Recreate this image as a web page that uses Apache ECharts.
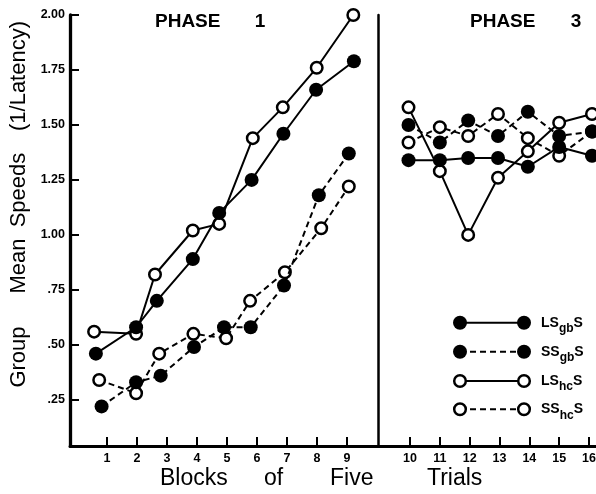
<!DOCTYPE html>
<html><head><meta charset="utf-8">
<script src="https://cdn.jsdelivr.net/npm/echarts@6/dist/echarts.min.js"></script>
<style>html,body{margin:0;padding:0;background:#fff}#c{width:596px;height:494px}</style>
</head><body><div id="c"></div>
<script>
// ---- data ----
const phase1Ticks = [1, 2, 3, 4, 5, 6, 7, 8, 9];
const phase3Ticks = [10, 11, 12, 13, 14, 15, 16];
const yTicks = [0.25, 0.5, 0.75, 1.0, 1.25, 1.5, 1.75, 2.0];

// Phase 1: [block position as drawn, speed]
const lsgbP1 = [[0.63,0.46],[1.97,0.58],[2.66,0.70],[3.86,0.89],[4.74,1.10],[5.82,1.25],[6.88,1.46],[7.97,1.66],[9.23,1.79]];
const ssgbP1 = [[0.82,0.22],[1.97,0.33],[2.79,0.36],[3.90,0.49],[4.90,0.58],[5.79,0.58],[6.90,0.77],[8.06,1.18],[9.06,1.37]];
const lshcP1 = [[0.57,0.56],[1.97,0.55],[2.60,0.82],[3.86,1.02],[4.74,1.05],[5.86,1.44],[6.86,1.58],[7.99,1.76],[9.21,2.00]];
const sshcP1 = [[0.74,0.34],[1.97,0.28],[2.74,0.46],[3.88,0.55],[4.97,0.53],[5.77,0.70],[6.93,0.83],[8.14,1.03],[9.06,1.22]];

// Phase 3: trials 10-16
const phase3X = [9.95, 11, 11.95, 12.95, 13.95, 15, 16.1];
const lsgbP3 = [1.34, 1.34, 1.35, 1.35, 1.31, 1.40, 1.36];
const ssgbP3 = [1.50, 1.42, 1.52, 1.45, 1.56, 1.45, 1.47];
const lshcP3 = [1.58, 1.29, 1.00, 1.26, 1.38, 1.51, 1.55];
const sshcP3 = [1.42, 1.49, 1.45, 1.55, 1.44, 1.36, 1.47];

const legendItems = [
  {main1: 'LS', sub: 'gb', main2: 'S', filled: true, dashed: false},
  {main1: 'SS', sub: 'gb', main2: 'S', filled: true, dashed: true},
  {main1: 'LS', sub: 'hc', main2: 'S', filled: false, dashed: false},
  {main1: 'SS', sub: 'hc', main2: 'S', filled: false, dashed: true}
];

// ---- chart ----
const FONT = '"Liberation Sans", Arial, sans-serif';
const chart = echarts.init(document.getElementById('c'), null, {renderer: 'canvas'});
const zip = (xs, ys) => xs.map((x, i) => [x, ys[i]]);

function mk(name, data, idx, filled, dashed) {
  return {
    type: 'line', name, data, xAxisIndex: idx, yAxisIndex: idx,
    symbol: 'circle', symbolSize: filled ? 14 : 11.5, showSymbol: true,
    itemStyle: filled ? {color: '#000'} : {color: '#fff', borderColor: '#000', borderWidth: 2.5},
    lineStyle: {color: '#000', width: 2, type: dashed ? [6, 4] : 'solid'},
    z: filled ? 3 : 2, clip: false, animation: false, silent: true
  };
}

const yFmt = v => { const s = v.toFixed(2); return v < 1 ? s.slice(1) : s; };

function xAxisCfg(idx, min, max, ticks) {
  return {
    type: 'value', gridIndex: idx, min, max,
    axisLine: {show: true, onZero: false, lineStyle: {color: '#000', width: 3}},
    axisTick: {show: true, inside: true, length: 9, lineStyle: {color: '#000', width: 2}, customValues: ticks},
    axisLabel: {show: true, margin: 6, color: '#000', fontFamily: FONT, fontWeight: 'bold', fontSize: 12.5, customValues: ticks},
    splitLine: {show: false}
  };
}

const graphics = [];
// titles
graphics.push({type: 'text', style: {text: 'PHASE', x: 155, y: 22, textVerticalAlign: 'middle', font: 'bold 19px ' + FONT, fill: '#000'}});
graphics.push({type: 'text', style: {text: '1', x: 260, y: 22, textAlign: 'center', textVerticalAlign: 'middle', font: 'bold 19px ' + FONT, fill: '#000'}});
graphics.push({type: 'text', style: {text: 'PHASE', x: 470, y: 22, textVerticalAlign: 'middle', font: 'bold 19px ' + FONT, fill: '#000'}});
graphics.push({type: 'text', style: {text: '3', x: 576, y: 22, textAlign: 'center', textVerticalAlign: 'middle', font: 'bold 19px ' + FONT, fill: '#000'}});
// y axis title words
[['Group', 357], ['Mean', 266], ['Speeds', 190], ['(1/Latency)', 76]].forEach(([t, cy]) => {
  graphics.push({type: 'text', x: 19, y: cy, rotation: Math.PI / 2,
    style: {text: t, x: 0, y: 0, textAlign: 'center', textVerticalAlign: 'middle', font: '22px ' + FONT, fill: '#000'}});
});
// x axis title words
[['Blocks', 160], ['of', 264], ['Five', 330], ['Trials', 427]].forEach(([t, x]) => {
  graphics.push({type: 'text', style: {text: t, x, y: 490, textVerticalAlign: 'bottom', font: '23px ' + FONT, fill: '#000'}});
});
// legend
const legY = [322.7, 351.7, 381, 409.3];
legendItems.forEach((it, i) => {
  const y = legY[i];
  graphics.push({type: 'line', shape: {x1: 460, y1: y, x2: 524, y2: y},
    style: {stroke: '#000', lineWidth: 2, lineDash: it.dashed ? [6, 4] : null}, z: 10});
  [460, 524].forEach(cx => {
    graphics.push({type: 'circle', shape: {cx, cy: y, r: it.filled ? 7 : 5.8},
      style: it.filled ? {fill: '#000'} : {fill: '#fff', stroke: '#000', lineWidth: 2.5}, z: 11});
  });
  graphics.push({type: 'text', z: 11, style: {
    text: '{m|' + it.main1 + '}{s|' + it.sub + '}{m|' + it.main2 + '}',
    x: 541, y: y - 7, textVerticalAlign: 'top',
    rich: {
      m: {fontFamily: FONT, fontWeight: 'bold', fontSize: 14, lineHeight: 16, verticalAlign: 'top', fill: '#000'},
      s: {fontFamily: FONT, fontWeight: 'bold', fontSize: 12, lineHeight: 16, verticalAlign: 'top', padding: [7, 0, 0, 0], fill: '#000'}
    }
  }});
});

const option = {
  animation: false,
  backgroundColor: '#fff',
  grid: [
    {left: 70, top: 15, width: 308, height: 431, outerBoundsMode: 'none', containLabel: false},
    {left: 378, top: 15, width: 218, height: 431, outerBoundsMode: 'none', containLabel: false}
  ],
  xAxis: [
    xAxisCfg(0, -0.233, 10.033, phase1Ticks),
    xAxisCfg(1, 8.927, 16.235, phase3Ticks)
  ],
  yAxis: [
    {type: 'value', gridIndex: 0, min: 0.04, max: 2.0,
      axisLine: {show: true, onZero: false, lineStyle: {color: '#000', width: 3.3}},
      axisTick: {show: true, inside: true, length: 9, lineStyle: {color: '#000', width: 2}, customValues: yTicks},
      axisLabel: {show: true, margin: 5, color: '#000', fontFamily: FONT, fontWeight: 'bold', fontSize: 12.5, customValues: yTicks, formatter: yFmt},
      splitLine: {show: false}},
    {type: 'value', gridIndex: 1, min: 0.04, max: 2.0,
      axisLine: {show: true, onZero: false, lineStyle: {color: '#000', width: 2.5}},
      axisTick: {show: false}, axisLabel: {show: false}, splitLine: {show: false}}
  ],
  series: [
    mk('LSgbS P1', lsgbP1, 0, true, false),
    mk('SSgbS P1', ssgbP1, 0, true, true),
    mk('LShcS P1', lshcP1, 0, false, false),
    mk('SShcS P1', sshcP1, 0, false, true),
    mk('LSgbS P3', zip(phase3X, lsgbP3), 1, true, false),
    mk('SSgbS P3', zip(phase3X, ssgbP3), 1, true, true),
    mk('LShcS P3', zip(phase3X, lshcP3), 1, false, false),
    mk('SShcS P3', zip(phase3X, sshcP3), 1, false, true)
  ],
  graphic: graphics
};
chart.setOption(option);
</script></body></html>
